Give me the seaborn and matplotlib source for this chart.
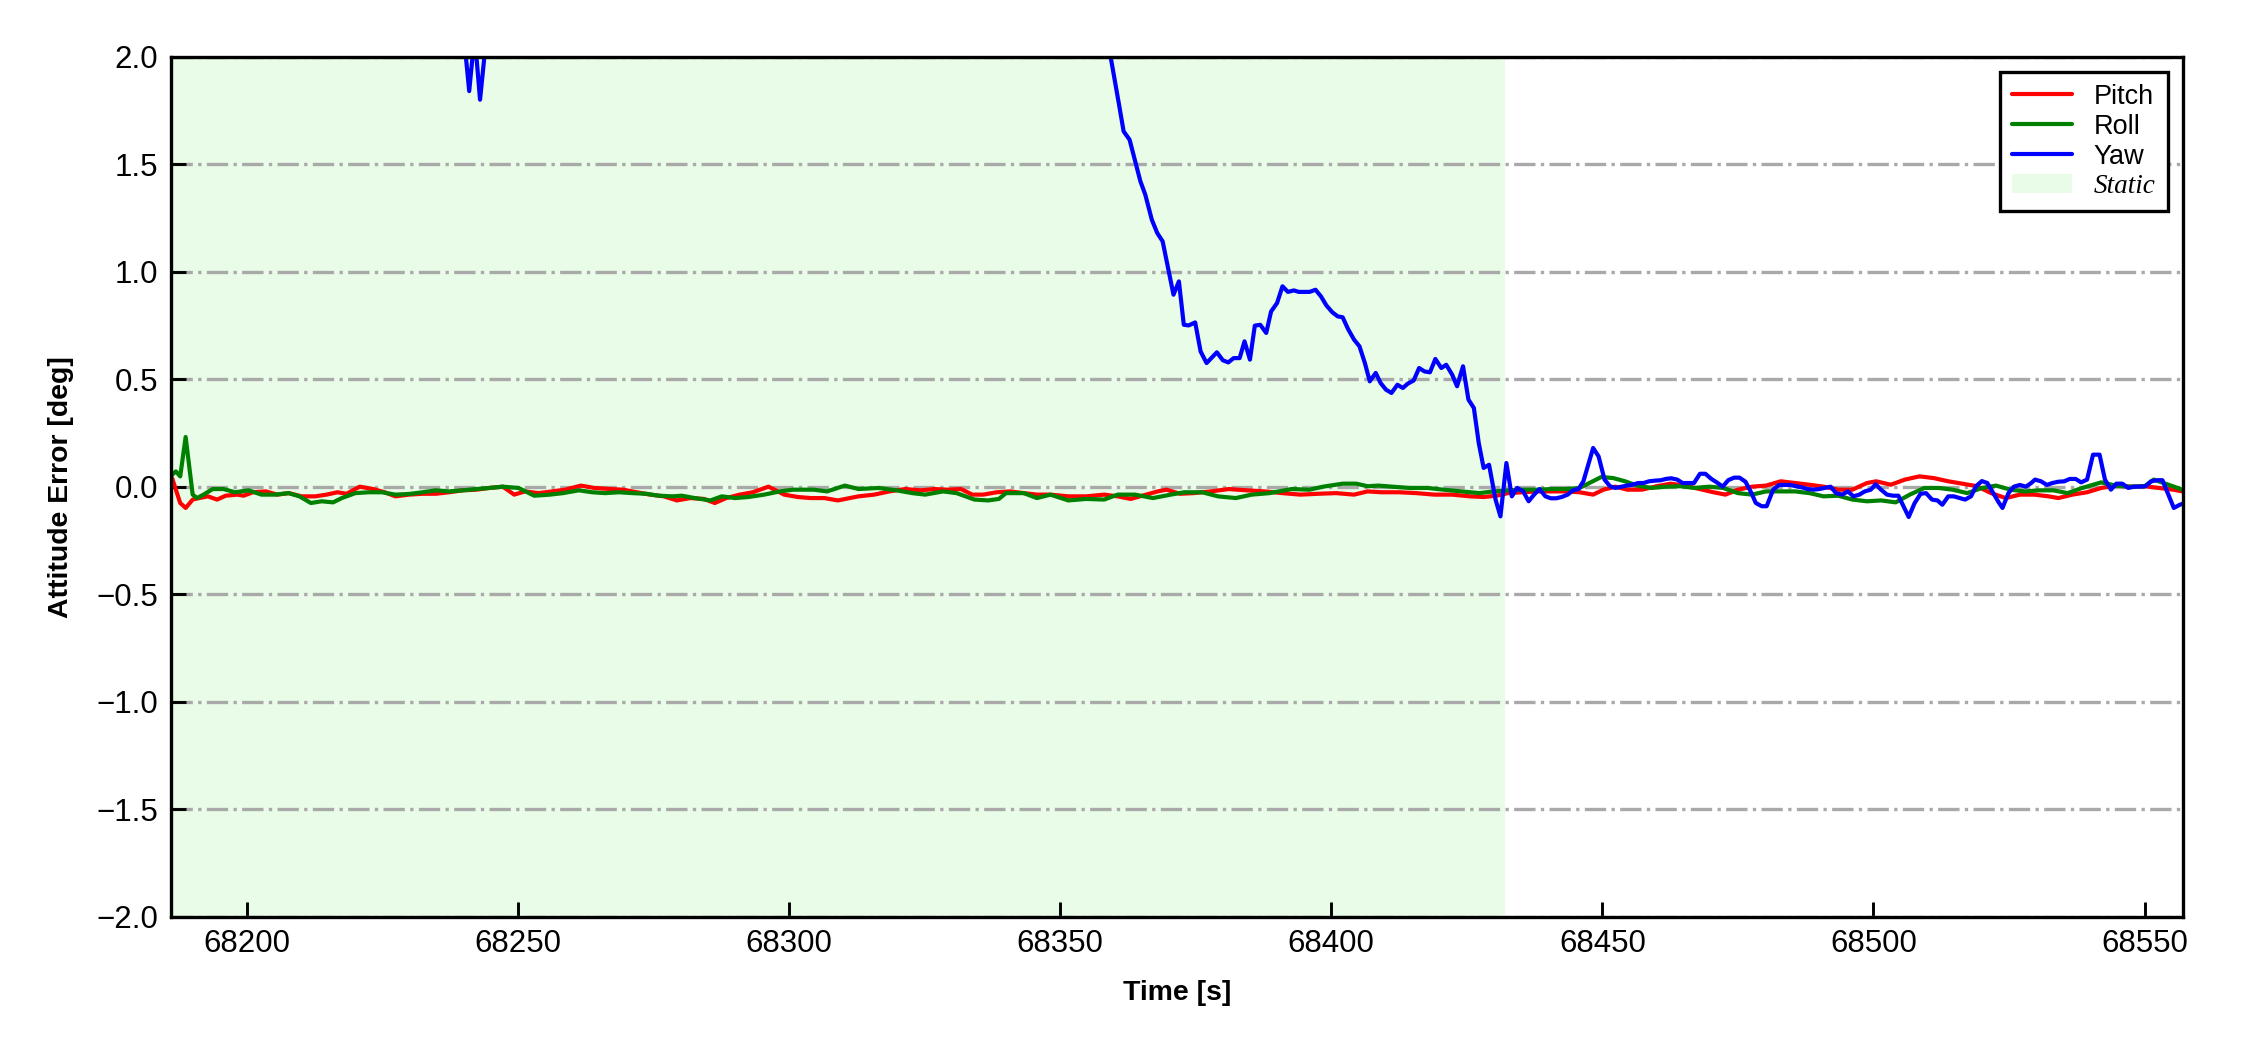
import numpy as np
import pandas as pd
import matplotlib
matplotlib.use("Agg")
import matplotlib.pyplot as plt
import seaborn as sns
from matplotlib.patches import Patch
from matplotlib.lines import Line2D

# static window
static_start = 68186.0
static_end = 68432.0
x_min, x_max = 68186.0, 68557.0

# pitch error [deg]
pitch_t = [68186.2, 68187.7, 68188.7, 68190.0, 68191.2, 68192.8, 68194.5, 68196.1, 68198.2, 68199.4,
           68201.1, 68203.5, 68205.6, 68207.7, 68210.1, 68212.6, 68214.7, 68216.7, 68218.4, 68220.8,
           68223.3, 68225.4, 68227.4, 68229.9, 68232.4, 68234.8, 68237.3, 68239.8, 68242.3, 68244.7,
           68247.2, 68249.3, 68251.3, 68253.8, 68256.3, 68258.7, 68261.6, 68264.1, 68267.0, 68269.4,
           68271.9, 68274.4, 68276.9, 68279.3, 68281.8, 68284.3, 68286.3, 68288.4, 68290.9, 68293.3,
           68296.2, 68299.1, 68301.6, 68304.0, 68306.5, 68309.0, 68312.8, 68315.7, 68318.5, 68321.4,
           68324.3, 68326.8, 68329.3, 68331.7, 68333.8, 68335.8, 68338.3, 68340.8, 68343.3, 68345.7,
           68348.2, 68351.5, 68354.8, 68358.1, 68360.6, 68363.0, 68365.9, 68368.0, 68369.6, 68372.1,
           68374.6, 68377.8, 68381.1, 68384.4, 68387.7, 68391.0, 68394.3, 68397.6, 68400.9, 68404.2,
           68406.7, 68409.2, 68412.5, 68415.7, 68419.0, 68422.3, 68425.6, 68428.1, 68430.5, 68432.6,
           68435.2, 68437.9, 68440.5, 68443.2, 68445.8, 68448.3, 68450.2, 68452.4, 68454.6, 68457.3,
           68460.0, 68462.6, 68465.2, 68467.9, 68470.5, 68472.7, 68475.0, 68477.6, 68480.2, 68482.9,
           68485.5, 68488.2, 68490.8, 68493.5, 68496.1, 68498.8, 68500.5, 68503.2, 68505.8, 68508.5,
           68511.1, 68513.8, 68516.4, 68519.1, 68521.7, 68524.4, 68527.0, 68529.7, 68532.3, 68534.1,
           68536.7, 68539.4, 68542.0, 68544.7, 68547.3, 68550.0, 68552.6, 68555.3, 68557.0]
pitch_v = [0.04, -0.076, -0.099, -0.06, -0.053, -0.045, -0.06, -0.042, -0.037, -0.042,
           -0.026, -0.022, -0.037, -0.03, -0.045, -0.045, -0.037, -0.026, -0.033, 0.0,
           -0.011, -0.026, -0.045, -0.037, -0.033, -0.033, -0.026, -0.017, -0.014, -0.006,
           0.0, -0.037, -0.022, -0.03, -0.022, -0.014, 0.005, -0.006, -0.011, -0.014,
           -0.026, -0.037, -0.045, -0.064, -0.053, -0.057, -0.076, -0.053, -0.037, -0.026,
           0.0, -0.037, -0.048, -0.053, -0.053, -0.064, -0.045, -0.037, -0.022, -0.011,
           -0.017, -0.011, -0.014, -0.011, -0.037, -0.037, -0.026, -0.022, -0.03, -0.037,
           -0.037, -0.045, -0.045, -0.037, -0.045, -0.057, -0.037, -0.022, -0.014, -0.033,
           -0.03, -0.022, -0.011, -0.017, -0.022, -0.03, -0.037, -0.033, -0.03, -0.037,
           -0.022, -0.026, -0.026, -0.03, -0.037, -0.037, -0.045, -0.048, -0.042, -0.03,
           -0.026, -0.022, -0.022, -0.022, -0.026, -0.037, -0.014, 0.0, -0.014, -0.014,
           0.002, 0.014, 0.005, -0.011, -0.026, -0.037, -0.014, 0.0, 0.005, 0.025,
           0.017, 0.009, 0.0, -0.014, -0.014, 0.017, 0.025, 0.009, 0.033, 0.048,
           0.04, 0.025, 0.014, 0.002, -0.03, -0.053, -0.037, -0.037, -0.045, -0.053,
           -0.037, -0.026, -0.006, 0.005, 0.0, 0.002, -0.006, -0.014, -0.022]

# roll error [deg]
roll_t = [68186.2, 68186.9, 68187.7, 68188.7, 68190.0, 68190.8, 68192.0, 68193.7, 68195.7, 68197.8,
          68200.3, 68202.7, 68205.2, 68207.7, 68209.7, 68211.8, 68213.8, 68215.9, 68217.5, 68220.0,
          68222.5, 68224.9, 68227.4, 68229.9, 68232.4, 68234.8, 68237.3, 68239.8, 68242.3, 68244.7,
          68247.2, 68250.1, 68253.0, 68255.9, 68258.3, 68261.2, 68263.7, 68266.1, 68268.6, 68271.1,
          68273.6, 68276.0, 68278.5, 68280.2, 68282.6, 68285.5, 68287.6, 68290.0, 68292.5, 68295.4,
          68298.3, 68300.7, 68304.5, 68307.0, 68310.3, 68312.8, 68316.5, 68319.8, 68322.7, 68325.1,
          68328.4, 68330.9, 68334.2, 68336.7, 68338.7, 68340.0, 68343.3, 68345.7, 68348.2, 68351.5,
          68354.8, 68358.1, 68360.6, 68363.8, 68367.1, 68370.4, 68372.9, 68376.2, 68379.1, 68382.4,
          68385.3, 68388.6, 68392.7, 68396.0, 68398.5, 68402.1, 68404.6, 68406.7, 68408.7, 68411.2,
          68414.5, 68417.8, 68420.7, 68424.0, 68427.3, 68429.9, 68432.6, 68435.2, 68437.9, 68440.5,
          68443.2, 68445.8, 68447.6, 68449.8, 68452.0, 68454.2, 68456.4, 68459.1, 68461.7, 68464.4,
          68467.0, 68469.7, 68472.3, 68475.0, 68477.6, 68480.2, 68482.9, 68485.5, 68488.2, 68490.8,
          68493.5, 68496.1, 68498.8, 68501.4, 68504.1, 68506.7, 68509.4, 68512.0, 68514.6, 68517.3,
          68520.0, 68522.6, 68525.3, 68527.9, 68530.6, 68533.2, 68535.8, 68538.5, 68542.0, 68544.7,
          68547.3, 68550.0, 68551.7, 68554.4, 68557.0]
roll_v = [0.056, 0.071, 0.048, 0.231, -0.037, -0.053, -0.037, -0.011, -0.011, -0.026,
          -0.017, -0.037, -0.037, -0.03, -0.045, -0.076, -0.068, -0.073, -0.053, -0.03,
          -0.026, -0.026, -0.037, -0.034, -0.026, -0.017, -0.022, -0.017, -0.011, -0.006,
          0.0, -0.006, -0.042, -0.037, -0.03, -0.017, -0.026, -0.03, -0.026, -0.03,
          -0.033, -0.042, -0.045, -0.042, -0.053, -0.064, -0.045, -0.053, -0.048, -0.037,
          -0.022, -0.014, -0.014, -0.022, 0.005, -0.011, -0.006, -0.017, -0.03, -0.037,
          -0.022, -0.03, -0.06, -0.064, -0.057, -0.03, -0.03, -0.053, -0.037, -0.064,
          -0.057, -0.06, -0.037, -0.037, -0.053, -0.037, -0.026, -0.026, -0.045, -0.053,
          -0.037, -0.03, -0.011, -0.014, 0.0, 0.014, 0.014, 0.002, 0.005, 0.0,
          -0.006, -0.006, -0.014, -0.022, -0.03, -0.022, -0.017, -0.014, -0.014, -0.011,
          -0.011, -0.006, 0.017, 0.045, 0.04, 0.025, 0.005, -0.006, 0.0, 0.002,
          -0.006, 0.0, -0.006, -0.03, -0.037, -0.022, -0.022, -0.022, -0.03, -0.045,
          -0.042, -0.06, -0.068, -0.064, -0.073, -0.037, -0.006, -0.006, -0.014, -0.03,
          -0.006, 0.005, -0.014, -0.022, -0.017, -0.017, -0.03, -0.006, 0.02, 0.005,
          0.0, 0.002, 0.033, 0.009, -0.014]

# yaw error [deg] (runs off the top of the axes for most of the static part)
yaw_t = [68186.0, 68230.0, 68239.0, 68240.0, 68241.0, 68242.0, 68243.0, 68244.0, 68246.0, 68300.0,
         68350.0, 68356.0, 68358.0, 68359.3, 68360.8, 68361.7, 68362.8, 68364.8, 68365.7, 68366.9,
         68367.9, 68368.9, 68370.9, 68371.9, 68372.8, 68373.7, 68374.9, 68375.9, 68377.0, 68378.9,
         68380.0, 68381.0, 68382.0, 68383.1, 68384.0, 68385.0, 68385.9, 68386.9, 68388.0, 68388.9,
         68390.0, 68391.0, 68392.0, 68393.1, 68394.0, 68395.1, 68396.0, 68397.1, 68398.1, 68399.1,
         68400.2, 68401.2, 68402.1, 68403.1, 68404.2, 68405.2, 68406.2, 68407.1, 68408.2, 68409.1,
         68410.1, 68411.1, 68412.2, 68413.2, 68414.1, 68415.2, 68416.2, 68417.2, 68418.2, 68419.2,
         68420.3, 68421.2, 68422.3, 68423.2, 68424.3, 68425.3, 68426.3, 68427.2, 68428.1, 68429.1,
         68430.3, 68431.2, 68432.3, 68433.3, 68434.3, 68435.4, 68436.4, 68437.4, 68438.4, 68439.5,
         68440.5, 68441.5, 68442.5, 68443.6, 68444.6, 68445.6, 68446.5, 68448.3, 68449.3, 68450.4,
         68451.4, 68452.4, 68453.5, 68454.5, 68455.5, 68456.6, 68457.6, 68458.6, 68459.7, 68460.8,
         68461.7, 68462.7, 68463.8, 68464.8, 68465.9, 68466.9, 68468.0, 68469.0, 68470.1, 68471.1,
         68472.2, 68473.2, 68474.3, 68475.3, 68476.4, 68477.5, 68478.3, 68479.4, 68480.3, 68481.5,
         68482.6, 68483.6, 68484.7, 68485.7, 68486.8, 68487.8, 68488.9, 68490.0, 68491.0, 68492.1,
         68493.1, 68494.2, 68495.3, 68496.3, 68497.4, 68498.4, 68499.5, 68500.4, 68501.4, 68502.5,
         68503.6, 68504.6, 68505.7, 68506.5, 68507.6, 68508.7, 68509.7, 68510.8, 68511.8, 68512.7,
         68513.8, 68514.8, 68515.9, 68516.9, 68518.0, 68518.9, 68520.0, 68521.0, 68522.1, 68523.1,
         68523.8, 68524.9, 68525.9, 68527.0, 68528.1, 68529.1, 68529.8, 68530.9, 68532.0, 68533.0,
         68534.1, 68535.2, 68536.2, 68537.3, 68538.3, 68539.4, 68540.5, 68541.7, 68542.7, 68543.8,
         68544.8, 68545.9, 68547.0, 68548.0, 68549.1, 68550.2, 68551.2, 68552.3, 68553.3, 68554.4,
         68555.4, 68556.5, 68557.0]
yaw_v = [2.5, 2.4, 2.3, 2.1, 1.84, 2.1, 1.80, 2.05, 2.4, 3.0,
         2.9, 2.45, 2.15, 2.0, 1.785, 1.653, 1.614, 1.42, 1.358, 1.242,
         1.18, 1.141, 0.893, 0.955, 0.753, 0.75, 0.764, 0.629, 0.575, 0.625,
         0.588, 0.578, 0.598, 0.598, 0.676, 0.591, 0.749, 0.753, 0.715, 0.815,
         0.854, 0.932, 0.906, 0.913, 0.906, 0.906, 0.906, 0.916, 0.885, 0.843,
         0.811, 0.792, 0.788, 0.733, 0.684, 0.653, 0.575, 0.49, 0.529, 0.482,
         0.451, 0.436, 0.474, 0.459, 0.479, 0.494, 0.552, 0.536, 0.532, 0.594,
         0.552, 0.567, 0.521, 0.467, 0.56, 0.405, 0.366, 0.203, 0.087, 0.102,
         -0.06, -0.138, 0.11, -0.045, -0.006, -0.022, -0.068, -0.037, -0.011, -0.045,
         -0.054, -0.054, -0.048, -0.037, -0.017, -0.011, 0.025, 0.18, 0.141, 0.033,
         0.002, -0.006, 0.0, 0.005, 0.009, 0.017, 0.017, 0.025, 0.028, 0.03,
         0.036, 0.039, 0.033, 0.017, 0.017, 0.017, 0.06, 0.06, 0.036, 0.02,
         0.0, 0.03, 0.042, 0.042, 0.023, -0.03, -0.076, -0.091, -0.091, -0.014,
         0.008, 0.008, 0.008, 0.002, -0.003, -0.011, -0.014, -0.011, -0.006, 0.0,
         -0.03, -0.037, -0.022, -0.045, -0.037, -0.022, -0.014, 0.011, -0.014, -0.037,
         -0.042, -0.042, -0.099, -0.141, -0.076, -0.033, -0.03, -0.06, -0.064, -0.084,
         -0.045, -0.045, -0.053, -0.06, -0.045, 0.002, 0.026, 0.017, -0.03, -0.073,
         -0.099, -0.03, 0.0, 0.008, 0.0, 0.017, 0.033, 0.025, 0.008, 0.017,
         0.023, 0.025, 0.036, 0.036, 0.02, 0.033, 0.149, 0.149, 0.033, -0.014,
         0.014, 0.014, -0.006, 0.0, 0.0, 0.002, 0.025, 0.03, 0.03, -0.037,
         -0.099, -0.084, -0.08]

y_ticks = [-2.0, -1.5, -1.0, -0.5, 0.0, 0.5, 1.0, 1.5, 2.0]
x_ticks = [68200, 68250, 68300, 68350, 68400, 68450, 68500, 68550]

sns.set_theme(style="white")
plt.rcParams['font.family'] = ['Liberation Sans', 'DejaVu Sans']
plt.rcParams['axes.unicode_minus'] = True
plt.rcParams['axes.labelcolor'] = 'black'
plt.rcParams['text.color'] = 'black'

fig, ax = plt.subplots(figsize=(7.5, 3.5), dpi=300)
fig.subplots_adjust(left=0.076, right=0.970, top=0.946, bottom=0.127)

ax.axvspan(static_start, static_end, color='#e8fce8', lw=0, zorder=0)
ax.yaxis.grid(True, linestyle='-.', color='#a9a9a9', lw=0.8)
ax.set_axisbelow(True)

sns.lineplot(x=pitch_t, y=pitch_v, ax=ax, color='red', lw=1.0, estimator=None, sort=False)
sns.lineplot(x=roll_t, y=roll_v, ax=ax, color='green', lw=1.0, estimator=None, sort=False)
sns.lineplot(x=yaw_t, y=yaw_v, ax=ax, color='blue', lw=1.0, estimator=None, sort=False)

ax.set_xlim(x_min, x_max)
ax.set_ylim(-2.0, 2.0)
ax.set_xticks(x_ticks)
ax.set_yticks(y_ticks)
ax.tick_params(direction='in', length=3.5, width=0.7, labelsize=7.5, colors='black',
               bottom=True, left=True, top=False, right=False, pad=3)
for s in ax.spines.values():
    s.set_color('black')
    s.set_linewidth(0.8)

ax.set_xlabel('Time [s]', fontsize=6.8, fontweight='bold', labelpad=5, color='black')
ax.set_ylabel('Attitude Error [deg]', fontsize=6.8, fontweight='bold', labelpad=5.5, color='black')

handles = [Line2D([], [], color='red', lw=1.0),
           Line2D([], [], color='green', lw=1.0),
           Line2D([], [], color='blue', lw=1.0),
           Patch(facecolor='#e8fce8', edgecolor='none')]
leg = ax.legend(handles, ['Pitch', 'Roll', 'Yaw', 'Static'], loc='upper right', fontsize=6.5,
                frameon=True, fancybox=False, edgecolor='black', framealpha=1,
                borderaxespad=0.55, handlelength=2.2, labelspacing=0.15, borderpad=0.45)
leg.get_frame().set_linewidth(0.8)
for t in leg.get_texts():
    t.set_color('black')
st = leg.get_texts()[3]
st.set_fontfamily(['Liberation Serif', 'DejaVu Serif'])
st.set_fontstyle('italic')

fig.savefig('out.png', dpi=300)
